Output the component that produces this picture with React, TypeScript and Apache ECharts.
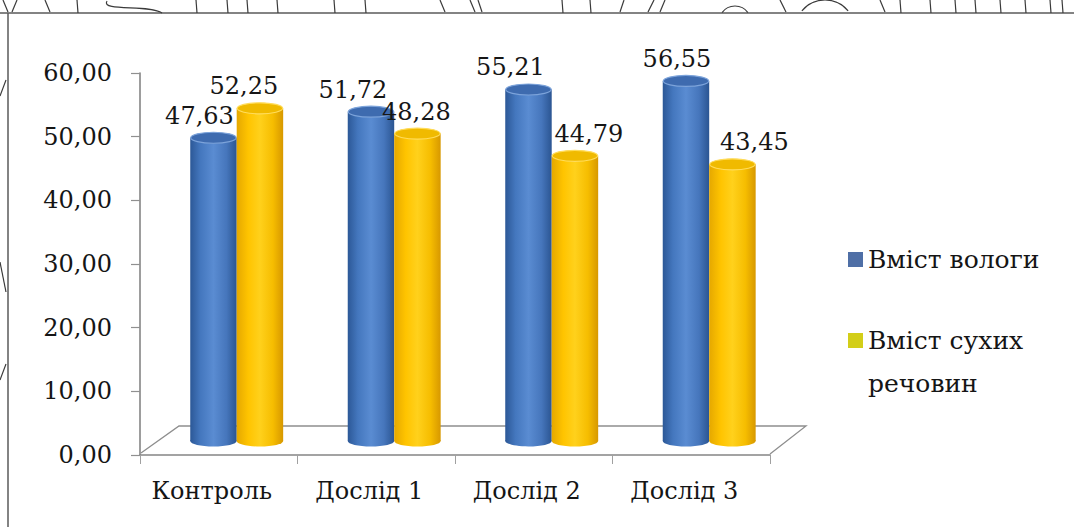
import React, { useEffect, useRef } from "react";
import * as echarts from "echarts";

const CATEGORIES = ["Контроль", "Дослід 1", "Дослід 2", "Дослід 3"];
const MOISTURE = [47.63, 51.72, 55.21, 56.55];
const DRY_MATTER = [52.25, 48.28, 44.79, 43.45];
const SERIES_NAMES = ["Вміст вологи", "Вміст сухих речовин"];
const Y_MIN = 0;
const Y_MAX = 60;
const Y_STEP = 10;

// small per-label horizontal nudges (layout only)
const LABEL_DX_MOISTURE = [-14, -18, -18, -9];
const LABEL_DX_DRY = [-16, -1, 14, 22];

const FONT = "DejaVu Serif";
const FS = 24;
const fmt = (v: number) => v.toFixed(2).replace(".", ",");

type Look = {
  body: [number, string][];
  top: string;
  rim: string;
};

const BLUE: Look = {
  body: [
    [0, "#2C5897"],
    [0.22, "#4477BE"],
    [0.5, "#5A8CD2"],
    [0.78, "#4676BC"],
    [1, "#2B5592"],
  ],
  top: "#3E6BAF",
  rim: "#7CA3DA",
};
const YELLOW: Look = {
  body: [
    [0, "#E5A800"],
    [0.25, "#FFC400"],
    [0.5, "#FFD11C"],
    [0.78, "#F6BD00"],
    [1, "#D79800"],
  ],
  top: "#F0BA00",
  rim: "#FFDC5A",
};

function makeRenderItem(side: number, look: Look, dx: number[]) {
  return (params: any, api: any) => {
    const idx = api.value(0);
    const v = api.value(1);
    const base = api.coord([idx, 0]);
    const tp = api.coord([idx, v]);
    const band = api.size([1, 0])[0];
    const w = band * 0.295;
    const cx = base[0] + band * 0.114 + (side * w) / 2;
    const lift = 14;
    const yb = base[1] - lift;
    const yt = tp[1] - lift;
    const ry = 5.5;
    const grad = () =>
      new echarts.graphic.LinearGradient(
        0,
        0,
        1,
        0,
        look.body.map(([o, c]) => ({ offset: o, color: c }))
      );
    return {
      type: "group",
      children: [
        {
          type: "ellipse",
          shape: { cx, cy: yb, rx: w / 2, ry },
          style: { fill: grad() },
        },
        {
          type: "rect",
          shape: { x: cx - w / 2, y: yt, width: w, height: yb - yt },
          style: { fill: grad() },
        },
        {
          type: "ellipse",
          shape: { cx, cy: yt, rx: w / 2 - 0.5, ry },
          style: { fill: look.top, stroke: look.rim, lineWidth: 1.2 },
        },
        {
          type: "text",
          z2: 100,
          style: {
            text: fmt(v),
            x: cx + dx[idx],
            y: yt - 22,
            align: "center",
            verticalAlign: "middle",
            fontSize: FS,
            fontFamily: FONT,
            fill: "#161616",
          },
        },
      ],
    };
  };
}

const FRAG = "#3a3a3a";
const topVerticals = [77, 196, 227, 247, 277, 334, 365, 562, 590, 900, 930, 955, 975, 1000, 1025, 1050, 1062];

export default function App() {
  const ref = useRef<HTMLDivElement>(null);
  useEffect(() => {
    if (!ref.current) return;
    const chart = echarts.init(ref.current, undefined, { renderer: "svg" });

    const fragments: any[] = topVerticals.map((x) => ({
      type: "line",
      shape: { x1: x, y1: 0, x2: x + 1, y2: 13 },
      style: { stroke: FRAG, lineWidth: 1.2 },
    }));
    const diag = [
      [3, 0, 8, 12],
      [17, 0, 12, 12],
      [45, 0, 50, 12],
      [440, 0, 445, 12],
      [470, 0, 475, 12],
      [482, 12, 478, 0],
      [620, 12, 624, 0],
      [648, 12, 654, 0],
      [660, 12, 665, 0],
      [780, 0, 786, 12],
      [880, 0, 885, 12],
      [0, 262, 6, 292],
      [6, 80, 0, 96],
      [6, 364, 0, 380],
    ];
    diag.forEach(([x1, y1, x2, y2]) =>
      fragments.push({
        type: "line",
        shape: { x1, y1, x2, y2 },
        style: { stroke: FRAG, lineWidth: 1.2 },
      })
    );
    fragments.push(
      {
        type: "bezierCurve",
        shape: { x1: 107, y1: 1, cpx1: 100, cpy1: 12, cpx2: 150, cpy2: 4, x2: 162, y2: 13 },
        style: { stroke: FRAG, lineWidth: 1.2, fill: "none" },
      },
      {
        type: "arc",
        shape: { cx: 735, cy: 22, r: 16, startAngle: Math.PI * 1.2, endAngle: Math.PI * 1.8 },
        style: { stroke: FRAG, lineWidth: 1.2, fill: "none" },
      },
      {
        type: "arc",
        shape: { cx: 825, cy: 30, r: 30, startAngle: Math.PI * 1.22, endAngle: Math.PI * 1.78 },
        style: { stroke: FRAG, lineWidth: 1.2, fill: "none" },
      }
    );

    const legendText = {
      fontSize: 25,
      fontFamily: FONT,
      color: "#151515",
      lineHeight: 43,
    };

    const option: any = {
      animation: false,
      backgroundColor: "#ffffff",
      textStyle: { fontFamily: FONT },
      grid: { left: 140, right: 304, top: 73, bottom: 72, containLabel: false },
      xAxis: {
        type: "category",
        data: CATEGORIES,
        axisLine: { show: true, lineStyle: { color: "#858585", width: 1.6 } },
        axisTick: { show: true, length: 9, lineStyle: { color: "#a0a0a0", width: 1 } },
        axisLabel: {
          fontSize: FS,
          fontFamily: FONT,
          color: "#151515",
          margin: 24,
          padding: [0, 14, 0, 0],
        },
        splitLine: { show: false },
      },
      yAxis: {
        type: "value",
        min: Y_MIN,
        max: Y_MAX,
        interval: Y_STEP,
        axisLine: { show: true, lineStyle: { color: "#858585", width: 1.6 } },
        axisTick: { show: true, length: 9, lineStyle: { color: "#909090", width: 1.2 } },
        axisLabel: {
          fontSize: FS,
          fontFamily: FONT,
          color: "#151515",
          margin: 28,
          formatter: (v: number) => fmt(v),
        },
        splitLine: { show: false },
      },
      legend: [
        {
          left: 848,
          top: 238,
          orient: "vertical",
          padding: 0,
          icon: "rect",
          itemWidth: 15,
          itemHeight: 15,
          selectedMode: false,
          data: [{ name: SERIES_NAMES[0] }],
          textStyle: legendText,
        },
        {
          left: 848,
          top: 276,
          orient: "vertical",
          padding: 0,
          icon: "rect",
          itemWidth: 15,
          itemHeight: 15,
          selectedMode: false,
          data: [{ name: SERIES_NAMES[1] }],
          formatter: (name: string) => " \n" + name.replace(" речовин", "\nречовин"),
          textStyle: legendText,
        },
      ],
      graphic: [
        {
          type: "polyline",
          z: 0,
          shape: {
            points: [
              [141, 453],
              [179, 426],
              [806, 426],
              [770, 454],
            ],
          },
          style: { stroke: "#8e8e8e", lineWidth: 1.3, fill: "none" },
        },
        {
          type: "line",
          shape: { x1: 0, y1: 13, x2: 1074, y2: 13 },
          style: { stroke: "#5a5a5a", lineWidth: 1.5 },
        },
        {
          type: "line",
          shape: { x1: 8, y1: 13, x2: 8, y2: 527 },
          style: { stroke: "#5a5a5a", lineWidth: 1.5 },
        },
        ...fragments,
      ],
      series: [
        {
          name: SERIES_NAMES[0],
          type: "custom",
          itemStyle: { color: "#4F6FA6" },
          encode: { x: 0, y: 1 },
          data: MOISTURE.map((v, i) => [i, v]),
          renderItem: makeRenderItem(-1, BLUE, LABEL_DX_MOISTURE),
        },
        {
          name: SERIES_NAMES[1],
          type: "custom",
          itemStyle: { color: "#D3CE18" },
          encode: { x: 0, y: 1 },
          data: DRY_MATTER.map((v, i) => [i, v]),
          renderItem: makeRenderItem(1, YELLOW, LABEL_DX_DRY),
        },
      ],
    };
    chart.setOption(option);
    return () => chart.dispose();
  }, []);

  return (
    <div
      ref={ref}
      style={{ position: "absolute", left: 0, top: 0, width: 1074, height: 527, background: "#fff" }}
    />
  );
}
